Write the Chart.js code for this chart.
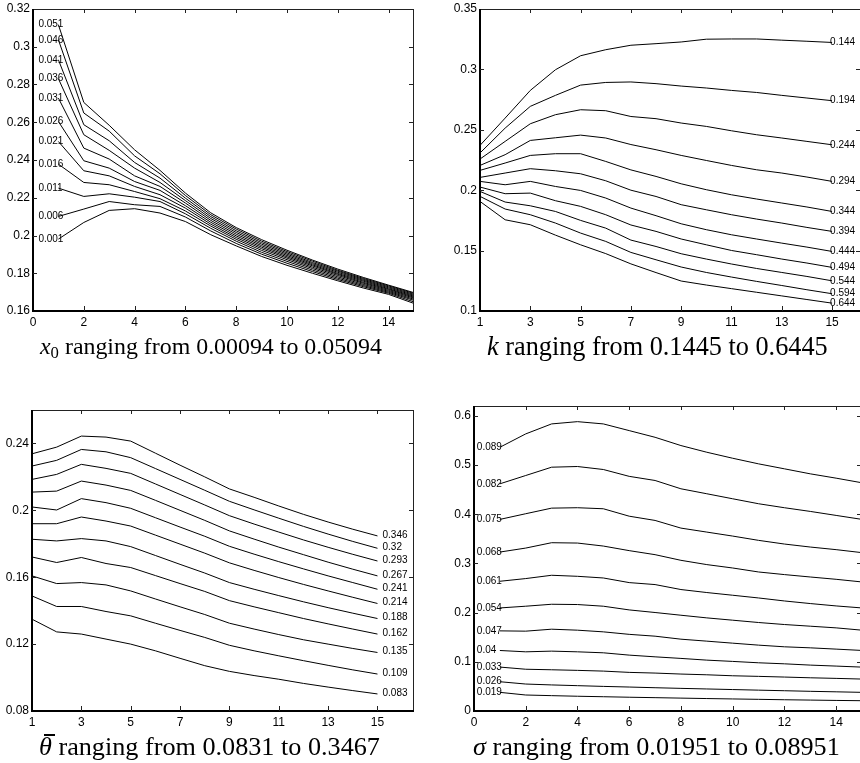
<!DOCTYPE html>
<html><head><meta charset="utf-8">
<script src="https://cdn.jsdelivr.net/npm/chart.js@4.4.0/dist/chart.umd.min.js"></script>
<style>
html,body{margin:0;padding:0;background:#fff;width:860px;height:763px;overflow:hidden;position:relative;}
canvas{position:absolute;}
.cap{position:absolute;font-family:"Liberation Serif","DejaVu Serif",serif;white-space:nowrap;color:#000;line-height:1;font-size:20px;}
.cap sub{font-size:0.7em;vertical-align:-0.25em;line-height:0;}
.bar{position:relative;display:inline-block;}
.bar::before{content:"";position:absolute;left:0.2em;top:0.02em;width:0.42em;height:0.055em;background:#000;}
</style></head><body>
<canvas id="c1"></canvas><canvas id="c2"></canvas><canvas id="c3"></canvas><canvas id="c4"></canvas>
<div class="cap" id="t1"><i>x</i><sub>0</sub> ranging from 0.00094 to 0.05094</div>
<div class="cap" id="t2"><i>k</i> ranging from 0.1445 to 0.6445</div>
<div class="cap" id="t3"><i class="bar">θ</i> ranging from 0.0831 to 0.3467</div>
<div class="cap" id="t4"><i>σ</i> ranging from 0.01951 to 0.08951</div>
<script>
// ---------- shared x positions (maturity index) ----------
const xPts = [1,2,3,4,5,6,7,8,9,10,11,12,13,14,15];

// ---------- panel 1 : x0 ----------
const x0Labels = ['0.051','0.046','0.041','0.036','0.031','0.026','0.021','0.016','0.011','0.006','0.001'];
const x0_051 = [0.3117,0.2705,0.2584,0.2454,0.2345,0.2225,0.2120,0.2042,0.1978,0.1922,0.1870,0.1822,0.1778,0.1737,0.1697];
const x0_046 = [0.3037,0.2649,0.2553,0.2422,0.2327,0.2212,0.2110,0.2034,0.1970,0.1915,0.1864,0.1816,0.1773,0.1733,0.1693];
const x0_041 = [0.2931,0.2587,0.2502,0.2387,0.2304,0.2198,0.2100,0.2025,0.1962,0.1908,0.1857,0.1811,0.1768,0.1728,0.1688];
const x0_036 = [0.2831,0.2534,0.2451,0.2357,0.2281,0.2185,0.2090,0.2016,0.1954,0.1901,0.1851,0.1805,0.1763,0.1723,0.1683];
const x0_031 = [0.2728,0.2463,0.2405,0.2316,0.2260,0.2172,0.2080,0.2007,0.1946,0.1894,0.1845,0.1799,0.1758,0.1718,0.1678];
const x0_026 = [0.2604,0.2396,0.2357,0.2286,0.2239,0.2158,0.2070,0.1998,0.1938,0.1887,0.1839,0.1794,0.1752,0.1714,0.1673];
const x0_021 = [0.2498,0.2343,0.2316,0.2260,0.2216,0.2145,0.2060,0.1989,0.1930,0.1880,0.1832,0.1788,0.1747,0.1709,0.1668];
const x0_016 = [0.2378,0.2281,0.2269,0.2233,0.2195,0.2130,0.2050,0.1980,0.1921,0.1872,0.1825,0.1781,0.1741,0.1704,0.1662];
const x0_011 = [0.2251,0.2207,0.2221,0.2203,0.2180,0.2115,0.2038,0.1970,0.1911,0.1863,0.1817,0.1774,0.1735,0.1699,0.1656];
const x0_006 = [0.2101,0.2140,0.2180,0.2163,0.2154,0.2098,0.2024,0.1958,0.1901,0.1853,0.1809,0.1767,0.1729,0.1694,0.1648];
const x0_001 = [0.1981,0.2069,0.2133,0.2142,0.2119,0.2074,0.2004,0.1945,0.1889,0.1842,0.1800,0.1760,0.1722,0.1688,0.1640];
const x0Series = [x0_051,x0_046,x0_041,x0_036,x0_031,x0_026,x0_021,x0_016,x0_011,x0_006,x0_001];
const p1XTicks = [0,2,4,6,8,10,12,14];
const p1XTickLabels = ['0','2','4','6','8','10','12','14'];
const p1YTicks = [0.16,0.18,0.2,0.22,0.24,0.26,0.28,0.3,0.32];
const p1YTickLabels = ['0.16','0.18','0.2','0.22','0.24','0.26','0.28','0.3','0.32'];

// ---------- panel 2 : k ----------
const kLabels = ['0.144','0.194','0.244','0.294','0.344','0.394','0.444','0.494','0.544','0.594','0.644'];
const k_144 = [0.2371,0.2597,0.2826,0.2997,0.3113,0.3163,0.3200,0.3213,0.3227,0.3250,0.3252,0.3252,0.3242,0.3233,0.3223];
const k_194 = [0.2308,0.2514,0.2694,0.2785,0.2870,0.2892,0.2896,0.2882,0.2862,0.2846,0.2826,0.2809,0.2785,0.2763,0.2741];
const k_244 = [0.2258,0.2404,0.2550,0.2625,0.2666,0.2658,0.2610,0.2592,0.2556,0.2528,0.2492,0.2459,0.2432,0.2404,0.2376];
const k_294 = [0.2205,0.2294,0.2412,0.2434,0.2456,0.2432,0.2378,0.2335,0.2288,0.2246,0.2205,0.2169,0.2142,0.2109,0.2073];
const k_344 = [0.2164,0.2225,0.2288,0.2302,0.2302,0.2238,0.2168,0.2114,0.2053,0.2004,0.1962,0.1927,0.1894,0.1861,0.1824];
const k_394 = [0.2106,0.2142,0.2178,0.2161,0.2136,0.2078,0.2000,0.1948,0.1880,0.1838,0.1797,0.1761,0.1728,0.1692,0.1659];
const k_444 = [0.2073,0.2045,0.2073,0.2031,0.1998,0.1935,0.1852,0.1789,0.1722,0.1673,0.1631,0.1596,0.1562,0.1529,0.1493];
const k_494 = [0.2026,0.1971,0.1976,0.1913,0.1866,0.1797,0.1712,0.1659,0.1596,0.1548,0.1501,0.1466,0.1430,0.1397,0.1361];
const k_544 = [0.1990,0.1902,0.1871,0.1824,0.1750,0.1686,0.1587,0.1534,0.1474,0.1430,0.1389,0.1352,0.1319,0.1286,0.1250];
const k_594 = [0.1949,0.1844,0.1797,0.1728,0.1645,0.1576,0.1485,0.1424,0.1364,0.1319,0.1281,0.1245,0.1211,0.1176,0.1143];
const k_644 = [0.1907,0.1755,0.1714,0.1628,0.1548,0.1475,0.1390,0.1318,0.1248,0.1215,0.1185,0.1155,0.1125,0.1095,0.1065];
const kSeries = [k_144,k_194,k_244,k_294,k_344,k_394,k_444,k_494,k_544,k_594,k_644];
const p2XTicks = [1,3,5,7,9,11,13,15];
const p2XTickLabels = ['1','3','5','7','9','11','13','15'];
const p2YTicks = [0.1,0.15,0.2,0.25,0.3,0.35];
const p2YTickLabels = ['0.1','0.15','0.2','0.25','0.3','0.35'];

// ---------- panel 3 : theta bar ----------
const thLabels = ['0.346','0.32','0.293','0.267','0.241','0.214','0.188','0.162','0.135','0.109','0.083'];
const th_346 = [0.2338,0.2378,0.2444,0.2438,0.2414,0.2342,0.2270,0.2200,0.2128,0.2078,0.2026,0.1976,0.1930,0.1887,0.1847];
const th_320 = [0.2265,0.2299,0.2364,0.2350,0.2315,0.2250,0.2185,0.2120,0.2054,0.2003,0.1953,0.1904,0.1858,0.1814,0.1773];
const th_293 = [0.2185,0.2215,0.2275,0.2251,0.2221,0.2158,0.2095,0.2032,0.1968,0.1918,0.1870,0.1823,0.1779,0.1737,0.1697];
const th_267 = [0.2109,0.2115,0.2175,0.2151,0.2119,0.2060,0.2000,0.1940,0.1877,0.1828,0.1780,0.1735,0.1690,0.1648,0.1608];
const th_241 = [0.2020,0.2002,0.2070,0.2046,0.2012,0.1956,0.1900,0.1845,0.1785,0.1738,0.1693,0.1650,0.1608,0.1568,0.1528];
const th_214 = [0.1920,0.1920,0.1960,0.1936,0.1906,0.1852,0.1798,0.1744,0.1686,0.1641,0.1598,0.1557,0.1518,0.1480,0.1443];
const th_188 = [0.1827,0.1817,0.1831,0.1817,0.1783,0.1730,0.1677,0.1625,0.1568,0.1528,0.1490,0.1453,0.1418,0.1385,0.1353];
const th_162 = [0.1721,0.1688,0.1718,0.1682,0.1658,0.1610,0.1562,0.1515,0.1460,0.1423,0.1388,0.1353,0.1321,0.1290,0.1260];
const th_135 = [0.1608,0.1562,0.1568,0.1554,0.1518,0.1470,0.1423,0.1377,0.1325,0.1290,0.1257,0.1226,0.1200,0.1174,0.1150];
const th_109 = [0.1488,0.1425,0.1425,0.1395,0.1369,0.1325,0.1282,0.1240,0.1193,0.1160,0.1130,0.1101,0.1073,0.1046,0.1021];
const th_083 = [0.1349,0.1273,0.1260,0.1230,0.1200,0.1160,0.1115,0.1071,0.1037,0.1012,0.0990,0.0965,0.0943,0.0922,0.0902];
const thSeries = [th_346,th_320,th_293,th_267,th_241,th_214,th_188,th_162,th_135,th_109,th_083];
const p3XTicks = [1,3,5,7,9,11,13,15];
const p3XTickLabels = ['1','3','5','7','9','11','13','15'];
const p3YTicks = [0.08,0.12,0.16,0.2,0.24];
const p3YTickLabels = ['0.08','0.12','0.16','0.2','0.24'];

// ---------- panel 4 : sigma ----------
const sgLabels = ['0.089','0.082','0.075','0.068','0.061','0.054','0.047','0.04 ','0.033','0.026','0.019'];
const sg_089 = [0.5361,0.5633,0.5836,0.5882,0.5836,0.5700,0.5564,0.5396,0.5260,0.5138,0.5024,0.4923,0.4821,0.4733,0.4639];
const sg_082 = [0.4618,0.4787,0.4956,0.4970,0.4909,0.4770,0.4686,0.4517,0.4416,0.4314,0.4213,0.4132,0.4057,0.3976,0.3895];
const sg_075 = [0.3895,0.4010,0.4124,0.4132,0.4111,0.3960,0.3874,0.3718,0.3637,0.3556,0.3469,0.3394,0.3333,0.3280,0.3219];
const sg_068 = [0.3231,0.3312,0.3421,0.3414,0.3353,0.3260,0.3178,0.3063,0.2976,0.2907,0.2826,0.2773,0.2724,0.2677,0.2623];
const sg_061 = [0.2637,0.2692,0.2759,0.2738,0.2704,0.2610,0.2570,0.2469,0.2408,0.2353,0.2298,0.2237,0.2184,0.2136,0.2095];
const sg_054 = [0.2095,0.2130,0.2170,0.2164,0.2130,0.2055,0.2002,0.1947,0.1893,0.1846,0.1799,0.1758,0.1724,0.1690,0.1643];
const sg_047 = [0.1629,0.1623,0.1663,0.1643,0.1609,0.1558,0.1521,0.1460,0.1420,0.1379,0.1339,0.1305,0.1284,0.1258,0.1231];
const sg_040 = [0.1230,0.1203,0.1217,0.1203,0.1183,0.1136,0.1101,0.1069,0.1034,0.1008,0.0980,0.0959,0.0933,0.0913,0.0892];
const sg_033 = [0.0893,0.0849,0.0838,0.0826,0.0811,0.0785,0.0771,0.0751,0.0736,0.0716,0.0704,0.0690,0.0675,0.0663,0.0649];
const sg_026 = [0.0595,0.0548,0.0530,0.0515,0.0500,0.0487,0.0473,0.0460,0.0448,0.0436,0.0424,0.0412,0.0400,0.0390,0.0379];
const sg_019 = [0.0379,0.0325,0.0312,0.0300,0.0290,0.0280,0.0271,0.0262,0.0253,0.0245,0.0237,0.0229,0.0222,0.0215,0.0209];
const sgSeries = [sg_089,sg_082,sg_075,sg_068,sg_061,sg_054,sg_047,sg_040,sg_033,sg_026,sg_019];
const p4XTicks = [0,2,4,6,8,10,12,14];
const p4XTickLabels = ['0','2','4','6','8','10','12','14'];
const p4YTicks = [0,0.1,0.2,0.3,0.4,0.5,0.6];
const p4YTickLabels = ['0','0.1','0.2','0.3','0.4','0.5','0.6'];

// ---------- drawing ----------
const TICK_FONT = {family: '"Liberation Sans", Arial, Helvetica, sans-serif', size: 12};
const Y_AXIS_W = 45, X_AXIS_H = 26, PAD_T = 12, PAD_R = 14;

const framePlugin = {
  id: 'frame',
  afterDatasetsDraw(chart) {
    const {ctx, chartArea: a, scales: {x, y}} = chart;
    const L = Math.round(a.left), R = Math.round(a.right), T = Math.round(a.top), B = Math.round(a.bottom);
    ctx.save();
    ctx.fillStyle = '#222';
    ctx.fillRect(L, T, R - L, 1);
    ctx.fillRect(R - 1, T, 1, B - T);
    ctx.fillStyle = '#000';
    ctx.fillRect(L - 1, T, 2, B - T + 1);
    ctx.fillRect(L - 1, B - 1, R - L + 1, 2);
    ctx.fillStyle = '#222';
    x.ticks.forEach(t => {
      const px = Math.round(x.getPixelForValue(t.value));
      if (px <= L + 1 || px >= R - 1) return;
      ctx.fillRect(px, B - 5, 1, 5);
      ctx.fillRect(px, T, 1, 4);
    });
    y.ticks.forEach(t => {
      const py = Math.round(y.getPixelForValue(t.value));
      if (py <= T + 1 || py >= B - 1) return;
      ctx.fillRect(L, py, 4, 1);
      ctx.fillRect(R - 5, py, 4, 1);
    });
    ctx.restore();
  }
};

const lineLabelPlugin = {
  id: 'lineLabels',
  afterDatasetsDraw(chart, args, opts) {
    const ctx = chart.ctx;
    ctx.save();
    ctx.font = '10px "Liberation Sans", Arial, Helvetica, sans-serif';
    ctx.fillStyle = '#000';
    ctx.textBaseline = 'middle';
    ctx.textAlign = 'left';
    chart.data.datasets.forEach((ds, i) => {
      const meta = chart.getDatasetMeta(i);
      const pt = meta.data[opts.atEnd ? meta.data.length - 1 : 0];
      ctx.fillText(ds.label, pt.x + opts.dx, pt.y + opts.dy);
    });
    ctx.restore();
  }
};

function makePanel(id, box, xr, yr, xTicks, xTickLabels, yTicks, yTickLabels, series, labels, lab) {
  const cv = document.getElementById(id);
  const W = box.R - box.L + Y_AXIS_W + PAD_R;
  const H = box.B - box.T + PAD_T + X_AXIS_H;
  cv.width = W; cv.height = H;
  cv.style.width = W + 'px'; cv.style.height = H + 'px';
  cv.style.left = (box.L - Y_AXIS_W) + 'px';
  cv.style.top = (box.T - PAD_T) + 'px';
  new Chart(cv, {
    type: 'line',
    data: {
      labels: xPts,
      datasets: series.map((s, i) => ({
        label: labels[i],
        data: s.map((v, j) => ({x: xPts[j], y: v})),
        borderColor: '#000', borderWidth: 1, pointRadius: 0, tension: 0, fill: false
      }))
    },
    options: {
      responsive: false, animation: false, devicePixelRatio: 1,
      layout: {padding: {left: 0, top: PAD_T, right: PAD_R, bottom: 0}},
      plugins: {legend: {display: false}, tooltip: {enabled: false}, lineLabels: lab},
      scales: {
        x: {
          type: 'linear', min: xr[0], max: xr[1],
          grid: {display: false, drawTicks: false}, border: {display: false},
          afterBuildTicks: s => { s.ticks = xTicks.map(v => ({value: v})); },
          afterFit: s => { s.height = X_AXIS_H; },
          ticks: {autoSkip: false, maxRotation: 0, padding: 4, color: '#000', font: TICK_FONT,
                  callback: (v, i) => xTickLabels[i]}
        },
        y: {
          type: 'linear', min: yr[0], max: yr[1],
          grid: {display: false, drawTicks: false}, border: {display: false},
          afterBuildTicks: s => { s.ticks = yTicks.map(v => ({value: v})); },
          afterFit: s => { s.width = Y_AXIS_W; },
          ticks: {autoSkip: false, padding: 3, color: '#000', font: TICK_FONT,
                  callback: (v, i) => yTickLabels[i]}
        }
      }
    },
    plugins: [framePlugin, lineLabelPlugin]
  });
}

makePanel('c1', {L: 33, T: 9, R: 414, B: 311}, [0, 15], [0.16, 0.32],
  p1XTicks, p1XTickLabels, p1YTicks, p1YTickLabels, x0Series, x0Labels, {atEnd: false, dx: -20, dy: 0});
makePanel('c2', {L: 480, T: 9, R: 861, B: 311}, [1, 16.15], [0.1, 0.35],
  p2XTicks, p2XTickLabels, p2YTicks, p2YTickLabels, kSeries, kLabels, {atEnd: true, dx: -2, dy: 0});
makePanel('c3', {L: 32, T: 410, R: 414, B: 711}, [1, 16.48], [0.08, 0.26],
  p3XTicks, p3XTickLabels, p3YTicks, p3YTickLabels, thSeries, thLabels, {atEnd: true, dx: 5, dy: -1});
makePanel('c4', {L: 474, T: 406, R: 862, B: 711}, [0, 15], [0, 0.62],
  p4XTicks, p4XTickLabels, p4YTicks, p4YTickLabels, sgSeries, sgLabels, {atEnd: false, dx: -23, dy: 0});

function placeCap(id, left, right, cy) {
  const el = document.getElementById(id);
  const w0 = el.getBoundingClientRect().width;
  const fs = 20 * (right - left) / w0;
  el.style.fontSize = fs + 'px';
  const r = el.getBoundingClientRect();
  el.style.left = left + 'px';
  el.style.top = (cy - r.height / 2) + 'px';
}
placeCap('t1', 40, 382, 347);
placeCap('t2', 487, 828, 347);
placeCap('t3', 39, 380, 747);
placeCap('t4', 473, 840, 747);
</script>
</body></html>
